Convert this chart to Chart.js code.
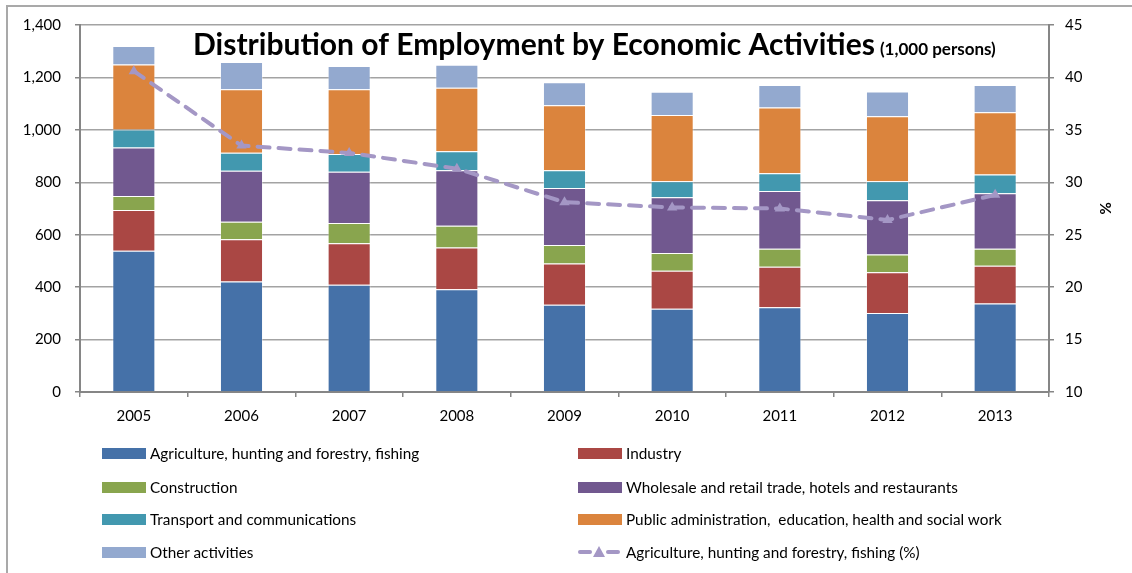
<!DOCTYPE html>
<html>
<head>
<meta charset="utf-8">
<title>Distribution of Employment by Economic Activities</title>
<script src="https://cdn.jsdelivr.net/npm/chart.js@4.4.1/dist/chart.umd.min.js"></script>
<style>
  html, body { margin: 0; padding: 0; background: #fff; }
  #wrap { position: relative; width: 1132px; height: 573px; overflow: hidden; font-family: Lato, sans-serif; }
  #frame { position: absolute; left: 6px; top: 5px; right: -10px; bottom: -10px;
           border-top: 2px solid #a9a9a9; border-left: 2px solid #a9a9a9; }
  #chart { position: absolute; left: 0; top: 0; }
  .item { position: absolute; display: flex; align-items: center; font-size: 15.3px; color: #000;
          white-space: pre; height: 20px; margin-top: -10px; }
  .sw { width: 44px; height: 11px; margin-right: 4px; flex: none; }
  .sw svg { display: block; }
</style>
</head>
<body>
<div id="wrap">
  <div id="frame"></div>
  <canvas id="chart" width="1132" height="573"></canvas>
  <div id="legend"></div>
</div>
<script>
// employment by activity, thousands of persons
const years = ['2005', '2006', '2007', '2008', '2009', '2010', '2011', '2012', '2013'];
const agriculture  = [539, 422, 409, 392, 333, 318, 323, 301, 338];
const industry     = [155, 161, 158, 159, 157, 145, 155, 156, 144];
const construction = [54, 66, 78, 83, 71, 67, 68, 68, 64];
const wholesale    = [185, 195, 195, 212, 217, 213, 221, 206, 212];
const transport    = [68, 69, 68, 72, 68, 61, 67, 73, 72];
const publicAdmin  = [248, 242, 247, 243, 248, 253, 251, 248, 237];
const otherActs    = [71, 104, 89, 87, 88, 88, 86, 94, 104];
// share of agriculture in total employment, %
const agriShare    = [40.6, 33.5, 32.8, 31.3, 28.1, 27.6, 27.5, 26.4, 28.8];

const leftTicks  = [0, 200, 400, 600, 800, 1000, 1200, 1400];
const rightTicks = [10, 15, 20, 25, 30, 35, 40, 45];

const FONT = 'Lato, sans-serif';
const axisGray = '#868686';
const gridGray = '#a3a3a3';

function bar(label, data, color) {
  return {
    label: label,
    data: data,
    backgroundColor: color,
    borderColor: 'rgba(255,255,255,0.35)',
    borderWidth: 1,
    stack: 'jobs',
    yAxisID: 'y',
    order: 1
  };
}

// title sits inside the plot, over the upper gridlines
const innerTitle = {
  id: 'innerTitle',
  afterDatasetsDraw(chart) {
    const ctx = chart.ctx;
    const area = chart.chartArea;
    const main = 'Distribution of Employment by Economic Activities';
    const sub = '(1,000 persons)';
    ctx.save();
    ctx.fillStyle = '#000';
    ctx.textBaseline = 'alphabetic';
    ctx.font = 'bold 28px ' + FONT;
    const w28 = ctx.measureText(main).width;
    const size = 28 * 682 / w28;
    ctx.font = 'bold ' + size.toFixed(2) + 'px ' + FONT;
    const x = area.left + 113;
    const y = area.top + 30;
    ctx.fillText(main, x, y);
    const w = ctx.measureText(main).width;
    ctx.font = 'bold 17px ' + FONT;
    ctx.fillText(sub, x + w + 5, y);
    ctx.restore();
  }
};

const chart = new Chart(document.getElementById('chart').getContext('2d'), {
  type: 'bar',
  data: {
    labels: years,
    datasets: [
      bar('Agriculture, hunting and forestry, fishing', agriculture, '#4571a8'),
      bar('Industry', industry, '#aa4744'),
      bar('Construction', construction, '#89a54e'),
      bar('Wholesale and retail trade, hotels and restaurants', wholesale, '#71588f'),
      bar('Transport and communications', transport, '#4298af'),
      bar('Public administration,  education, health and social work', publicAdmin, '#db843d'),
      bar('Other activities', otherActs, '#93a9cf'),
      {
        type: 'line',
        label: 'Agriculture, hunting and forestry, fishing (%)',
        data: agriShare,
        yAxisID: 'y1',
        borderColor: '#a497c5',
        backgroundColor: '#a497c5',
        borderWidth: 4,
        borderDash: [12, 9],
        borderCapStyle: 'round',
        pointStyle: 'triangle',
        pointRadius: 6,
        pointBorderWidth: 0,
        fill: false,
        tension: 0,
        order: 0
      }
    ]
  },
  options: {
    responsive: false,
    animation: false,
    layout: { padding: { left: 0, right: 0, top: 25, bottom: 143 } },
    plugins: {
      legend: { display: false },
      title: { display: false },
      tooltip: { enabled: false }
    },
    datasets: {
      bar: { categoryPercentage: 1, barPercentage: 0.4 }
    },
    scales: {
      x: {
        stacked: true,
        offset: true,
        grid: { offset: true, drawOnChartArea: false, tickLength: 5, color: axisGray, lineWidth: 1.5 },
        border: { color: axisGray, width: 2 },
        ticks: { padding: 10, color: '#000', font: { family: FONT, size: 15 } },
        afterFit: s => { s.height = 38; }
      },
      y: {
        stacked: true,
        position: 'left',
        min: 0,
        max: 1400,
        afterBuildTicks: s => { s.ticks = leftTicks.map(v => ({ value: v })); },
        grid: { color: gridGray, lineWidth: 1.5, tickLength: 5, tickColor: axisGray },
        border: { color: axisGray, width: 2 },
        ticks: {
          padding: 14,
          color: '#000',
          font: { family: FONT, size: 15 },
          callback: v => v.toLocaleString('en-US')
        },
        afterFit: s => { s.width = 80; }
      },
      y1: {
        position: 'right',
        min: 10,
        max: 45,
        afterBuildTicks: s => { s.ticks = rightTicks.map(v => ({ value: v })); },
        grid: { drawOnChartArea: false, tickLength: 5, color: axisGray, lineWidth: 1.5 },
        border: { color: axisGray, width: 2 },
        ticks: { padding: 11, color: '#000', font: { family: FONT, size: 15 } },
        title: {
          display: true,
          text: '%',
          color: '#000',
          font: { family: FONT, size: 15, weight: 'bold' },
          padding: { top: 18, bottom: 0 }
        },
        afterFit: s => { s.width = 83; }
      }
    }
  },
  plugins: [innerTitle]
});

// two-column legend under the plot, built from the datasets
const legend = document.getElementById('legend');
const colX = [102, 578];
const rowY = [453, 487, 519, 552];
chart.data.datasets.forEach((ds, i) => {
  const item = document.createElement('div');
  item.className = 'item';
  item.style.left = colX[i % 2] + 'px';
  item.style.top = rowY[Math.floor(i / 2)] + 'px';
  const sw = document.createElement('span');
  sw.className = 'sw';
  if (ds.type === 'line') {
    const c = ds.borderColor;
    sw.style.height = '14px';
    sw.innerHTML =
      '<svg width="44" height="14">' +
      '<line x1="2" y1="7" x2="12" y2="7" stroke="' + c + '" stroke-width="4" stroke-linecap="round"/>' +
      '<line x1="30" y1="7" x2="40" y2="7" stroke="' + c + '" stroke-width="4" stroke-linecap="round"/>' +
      '<polygon points="21,1 27,12 15,12" fill="' + c + '"/></svg>';
  } else {
    sw.style.background = ds.backgroundColor;
  }
  const txt = document.createElement('span');
  txt.textContent = ds.label;
  item.appendChild(sw);
  item.appendChild(txt);
  legend.appendChild(item);
});
</script>
</body>
</html>
